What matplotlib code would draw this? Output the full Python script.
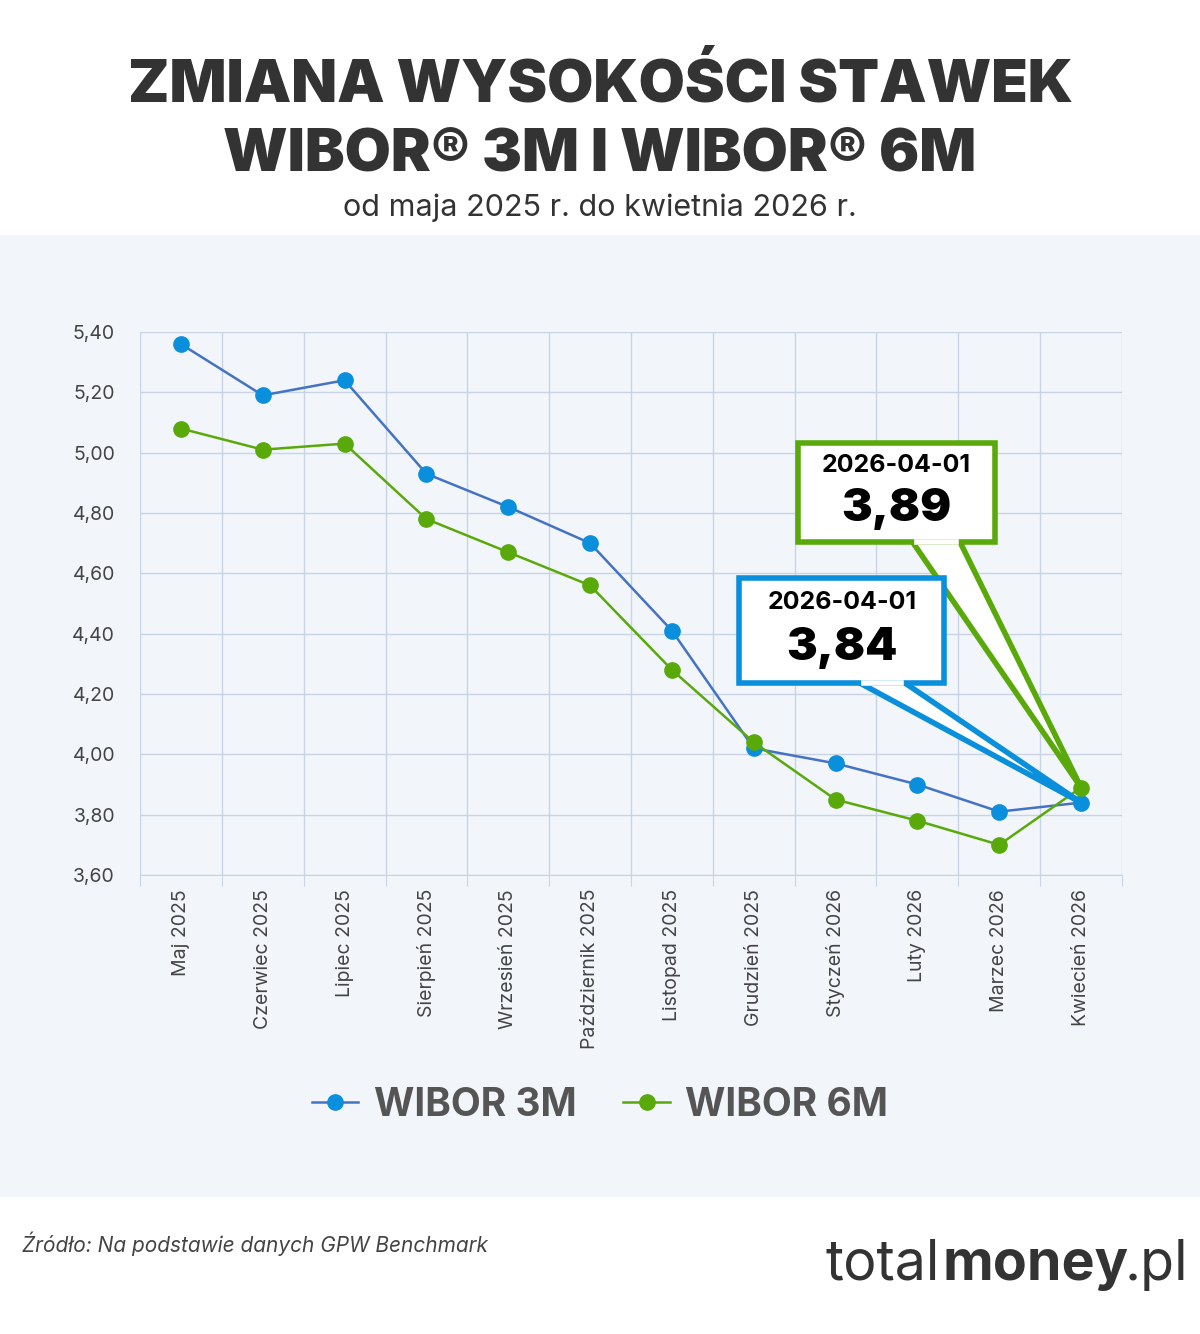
import matplotlib
matplotlib.use("Agg")
import matplotlib.pyplot as plt
from matplotlib.patches import Rectangle, Polygon

months = ["Maj 2025","Czerwiec 2025","Lipiec 2025","Sierpień 2025","Wrzesień 2025",
          "Październik 2025","Listopad 2025","Grudzień 2025","Styczeń 2026","Luty 2026",
          "Marzec 2026","Kwiecień 2026"]
wibor3m = [5.36,5.19,5.24,4.93,4.82,4.70,4.41,4.02,3.97,3.90,3.81,3.84]
wibor6m = [5.08,5.01,5.03,4.78,4.67,4.56,4.28,4.04,3.85,3.78,3.70,3.89]
yticks = [3.6,3.8,4.0,4.2,4.4,4.6,4.8,5.0,5.2,5.4]

BLUE = "#0a8fdc"; LINEB = "#4472c4"; GREEN = "#5aa90a"
plt.rcParams['font.family'] = ['Inter', 'DejaVu Sans']

fig = plt.figure(figsize=(12, 13.34), dpi=100)
fig.patch.set_facecolor("white")
bg = fig.add_axes([0, 1-1197/1334, 1, (1197-235)/1334], zorder=-5)
bg.set_facecolor("#f2f6fb"); bg.set_xticks([]); bg.set_yticks([])
for s in bg.spines.values():
    s.set_visible(False)

fig.text(0.5, 1-85/1334, "ZMIANA WYSOKOŚCI STAWEK", ha="center", va="center",
         fontsize=43, fontweight="black", color="#333333")
fig.text(0.5, 1-155/1334, "WIBOR® 3M I WIBOR® 6M", ha="center", va="center",
         fontsize=43, fontweight="black", color="#333333")
fig.text(0.5, 1-208/1334, "od maja 2025 r. do kwietnia 2026 r.", ha="center", va="center",
         fontsize=22, color="#333333")
fig.text(0.018, 1-1244/1334, "Źródło: Na podstawie danych GPW Benchmark", ha="left", va="center",
         fontsize=15, style="italic", color="#444444")
fig.text(0.688, 1-1265/1334, "total", ha="left", va="center", fontsize=40, color="#333333")
fig.text(0.785, 1-1265/1334, "money", ha="left", va="center", fontsize=40, fontweight="bold", color="#333333")
fig.text(0.937, 1-1265/1334, ".pl", ha="left", va="center", fontsize=40, color="#333333")

ax = fig.add_axes([140/1200, 1-875/1334, 982/1200, 543/1334])
ax.set_facecolor("#f2f6fb")
x = list(range(len(months)))
ax.plot(x, wibor3m, color=LINEB, lw=1.8, marker="o", ms=11, mfc=BLUE, mec=BLUE, zorder=3, label="WIBOR 3M")
ax.plot(x, wibor6m, color=GREEN, lw=1.8, marker="o", ms=11, mfc=GREEN, mec=GREEN, zorder=3, label="WIBOR 6M")
ax.set_xlim(-0.5, 11.5); ax.set_ylim(3.6, 5.4)
ax.set_yticks(yticks)
ax.set_yticklabels([f"{v:.2f}".replace(".", ",") for v in yticks], fontsize=14, color="#444444")
ax.set_xticks([i - 0.5 for i in range(13)], minor=False)
ax.set_xticklabels([""]*13)
ax.set_xticks(x, minor=True)
ax.set_xticklabels(months, minor=True, rotation=90, fontsize=14, color="#444444")
ax.tick_params(axis="x", which="minor", length=0, pad=10)
ax.tick_params(axis="x", which="major", length=8, color="#c8d4e6")
ax.tick_params(axis="y", length=0, pad=18)
ax.grid(True, which="major", color="#c8d4e6", lw=1)
for s in ax.spines.values():
    s.set_visible(False)
ax.spines["bottom"].set_visible(True); ax.spines["bottom"].set_color("#c8d4e6")

def callout(x0, x1, y0, y1, bx0, bx1, px, py, col, val):
    ax.add_patch(Polygon([(bx0, y0), (px, py), (bx1, y0)], closed=True, facecolor="white",
                         edgecolor=col, lw=4, zorder=4, clip_on=False))
    ax.add_patch(Rectangle((x0, y0), x1-x0, y1-y0, facecolor="white", edgecolor=col, lw=4,
                           zorder=5, clip_on=False))
    ax.plot([bx0+0.05, bx1-0.05], [y0, y0], color="white", lw=4, zorder=6)
    cx = (x0+x1)/2
    ax.text(cx, y1-(y1-y0)*0.23, "2026-04-01", ha="center", va="center", fontsize=18,
            fontweight="bold", color="black", zorder=7)
    ax.text(cx, y0+(y1-y0)*0.33, val, ha="center", va="center", fontsize=33,
            fontweight="black", color="black", zorder=7)

callout(7.54, 9.95, 4.704, 5.032, 8.94, 9.52, 11, 3.89, GREEN, "3,89")
callout(6.82, 9.33, 4.236, 4.585, 8.30, 8.85, 11, 3.84, BLUE, "3,84")

leg = fig.legend(loc="center", bbox_to_anchor=(0.5, 1-1105/1334), ncol=2, frameon=False,
                 prop={"size": 28, "weight": "bold"}, handlelength=1.2, columnspacing=1.2, handletextpad=0.4)
for t in leg.get_texts():
    t.set_color("#555555")
for h in leg.legend_handles:
    h.set_markersize(11)

fig.savefig("out.png", dpi=100)
